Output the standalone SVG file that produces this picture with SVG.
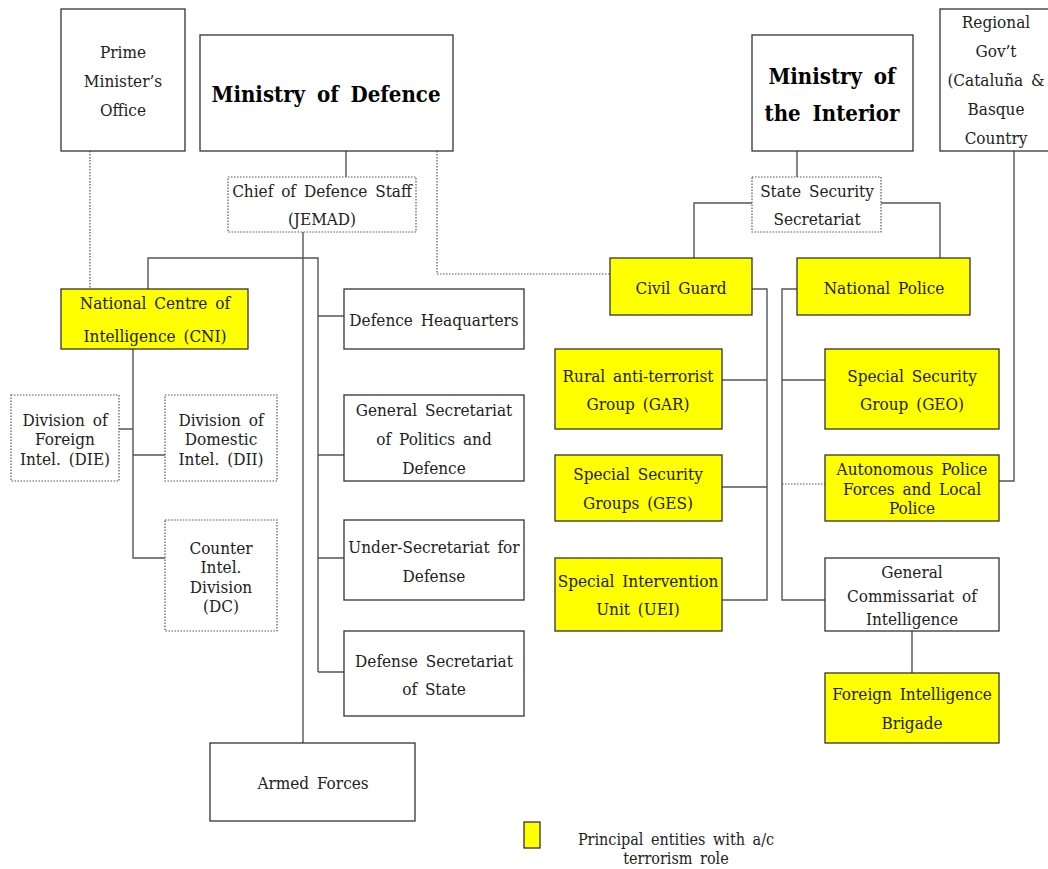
<svg xmlns="http://www.w3.org/2000/svg" width="1048" height="869" viewBox="0 0 1048 869">
<style>
.b{fill:#fff;stroke:#333;stroke-width:1.3}
.y{fill:#ffff00;stroke:#333;stroke-width:1.3}
.d{fill:#fff;stroke:#555;stroke-width:1.2;stroke-dasharray:1.5 1.5}
.c{fill:none;stroke:#555;stroke-width:1.4}
.cd{fill:none;stroke:#555;stroke-width:1.2;stroke-dasharray:1.5 1.5}
text{font-family:"DejaVu Serif Condensed","DejaVu Serif",serif;font-stretch:condensed;font-size:17px;fill:#222;text-anchor:middle;word-spacing:3px}
.t{font-weight:bold;font-size:22px;fill:#000;word-spacing:5px}
.l{font-size:16px}
</style>
<rect width="1048" height="869" fill="#fff"/>
<g id="connectors">
<path class="cd" d="M90 151V289"/>
<path class="c" d="M346 151V177"/>
<path class="cd" d="M437 151V274H610"/>
<path class="c" d="M303 232V743"/>
<path class="c" d="M148 289V258H318V672"/>
<path class="c" d="M318 316H344M318 455H344M318 558H344M318 672H344"/>
<path class="c" d="M133 349V558H165M119 429H133M133 455H165"/>
<path class="c" d="M797 151V177"/>
<path class="c" d="M752 203H694V258M881 203H940V258"/>
<path class="c" d="M1014 151V481H999"/>
<path class="c" d="M752 289H767V600H722M722 380H767M722 487H767"/>
<path class="c" d="M797 289H782V600H825M782 380H825"/>
<path class="cd" d="M782 484H825"/>
<path class="c" d="M912 631V673"/>
</g>
<g id="pm"><rect class="b" x="61" y="9" width="124" height="142"/><text x="123" y="58">Prime</text><text x="123" y="87">Minister’s</text><text x="123" y="116">Office</text></g>
<g id="mod"><rect class="b" x="200" y="35" width="253" height="116"/><text class="t" x="326" y="102">Ministry of Defence</text></g>
<g id="jemad"><rect class="d" x="228" y="177" width="188" height="55"/><text x="322" y="197">Chief of Defence Staff</text><text x="322" y="225">(JEMAD)</text></g>
<g id="moi"><rect class="b" x="752" y="35" width="161" height="116"/><text class="t" x="832" y="84">Ministry of</text><text class="t" x="832" y="121">the Interior</text></g>
<g id="regional"><rect class="b" x="940" y="9" width="114" height="142"/><text x="996" y="28">Regional</text><text x="996" y="57">Gov’t</text><text x="996" y="86">(Cataluña &amp;</text><text x="996" y="115">Basque</text><text x="996" y="144">Country</text></g>
<g id="sss"><rect class="d" x="752" y="177" width="129" height="55"/><text x="817" y="197">State Security</text><text x="817" y="225">Secretariat</text></g>
<g id="civilguard"><rect class="y" x="610" y="258" width="142" height="57"/><text x="681" y="294">Civil Guard</text></g>
<g id="natpolice"><rect class="y" x="797" y="258" width="173" height="57"/><text x="884" y="294">National Police</text></g>
<g id="cni"><rect class="y" x="61" y="289" width="187" height="60"/><text x="155" y="309">National Centre of</text><text x="155" y="342">Intelligence (CNI)</text></g>
<g id="dhq"><rect class="b" x="344" y="289" width="180" height="60"/><text x="434" y="326">Defence Heaquarters</text></g>
<g id="gensec"><rect class="b" x="344" y="395" width="180" height="86"/><text x="434" y="416">General Secretariat</text><text x="434" y="445">of Politics and</text><text x="434" y="474">Defence</text></g>
<g id="undersec"><rect class="b" x="344" y="520" width="180" height="80"/><text x="434" y="553">Under-Secretariat for</text><text x="434" y="582">Defense</text></g>
<g id="defsec"><rect class="b" x="344" y="631" width="180" height="85"/><text x="434" y="667">Defense Secretariat</text><text x="434" y="695">of State</text></g>
<g id="armed"><rect class="b" x="210" y="743" width="205" height="78"/><text x="313" y="789">Armed Forces</text></g>
<g id="die"><rect class="d" x="11" y="395" width="108" height="86"/><text x="65" y="426">Division of</text><text x="65" y="445">Foreign</text><text x="65" y="465">Intel. (DIE)</text></g>
<g id="dii"><rect class="d" x="165" y="395" width="112" height="86"/><text x="221" y="426">Division of</text><text x="221" y="445">Domestic</text><text x="221" y="465">Intel. (DII)</text></g>
<g id="dc"><rect class="d" x="165" y="520" width="112" height="111"/><text x="221" y="554">Counter</text><text x="221" y="573">Intel.</text><text x="221" y="593">Division</text><text x="221" y="612">(DC)</text></g>
<g id="gar"><rect class="y" x="555" y="349" width="167" height="80"/><text x="638" y="382">Rural anti-terrorist</text><text x="638" y="410">Group (GAR)</text></g>
<g id="ges"><rect class="y" x="555" y="455" width="167" height="66"/><text x="638" y="480">Special Security</text><text x="638" y="509">Groups (GES)</text></g>
<g id="uei"><rect class="y" x="555" y="558" width="167" height="73"/><text x="638" y="587">Special Intervention</text><text x="638" y="615">Unit (UEI)</text></g>
<g id="geo"><rect class="y" x="825" y="349" width="174" height="80"/><text x="912" y="382">Special Security</text><text x="912" y="410">Group (GEO)</text></g>
<g id="autonomous"><rect class="y" x="825" y="455" width="174" height="66"/><text x="912" y="475">Autonomous Police</text><text x="912" y="495">Forces and Local</text><text x="912" y="514">Police</text></g>
<g id="gci"><rect class="b" x="825" y="558" width="174" height="73"/><text x="912" y="578">General</text><text x="912" y="602">Commissariat of</text><text x="912" y="625">Intelligence</text></g>
<g id="fib"><rect class="y" x="825" y="673" width="174" height="70"/><text x="912" y="700">Foreign Intelligence</text><text x="912" y="729">Brigade</text></g>
<g id="legend"><rect class="y" x="524" y="822" width="16" height="26"/><text class="l" x="676" y="845">Principal entities with a/c</text><text class="l" x="676" y="864">terrorism role</text></g>
</svg>
